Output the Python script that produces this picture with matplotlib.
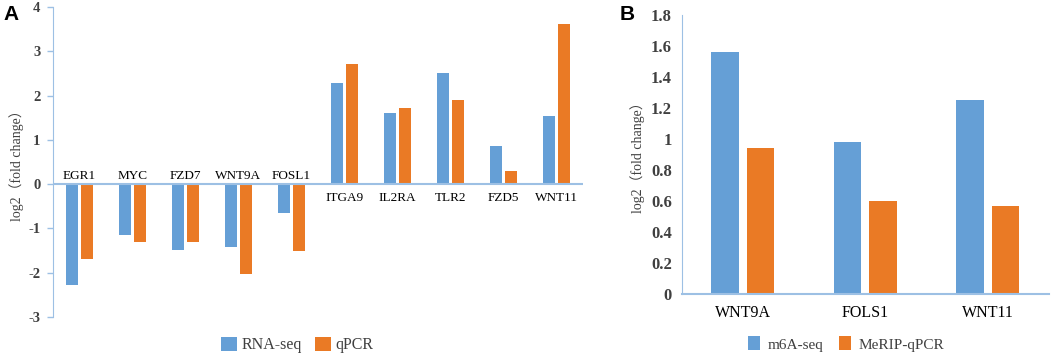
import numpy as np
import matplotlib
matplotlib.use("Agg")
import matplotlib.pyplot as plt

# panel A data
genes_a = ["EGR1", "MYC", "FZD7", "WNT9A", "FOSL1", "ITGA9", "IL2RA", "TLR2", "FZD5", "WNT11"]
rnaseq = [-2.27, -1.14, -1.48, -1.42, -0.66, 2.29, 1.61, 2.52, 0.87, 1.54]
qpcr = [-1.70, -1.31, -1.30, -2.02, -1.52, 2.71, 1.71, 1.90, 0.29, 3.62]
yticks_a = [-3, -2, -1, 0, 1, 2, 3, 4]

# panel B data
genes_b = ["WNT9A", "FOLS1", "WNT11"]
m6a = [1.563, 0.981, 1.252]
merip = [0.942, 0.602, 0.568]
yticks_b = [0, 0.2, 0.4, 0.6, 0.8, 1.0, 1.2, 1.4, 1.6, 1.8]
yticklab_b = ["0", "0.2", "0.4", "0.6", "0.8", "1", "1.2", "1.4", "1.6", "1.8"]

blue = "#659fd6"
orange = "#ea7a25"
axcol = "#9dc0e4"
serif = ["Liberation Serif", "Noto Sans CJK SC"]

fig = plt.figure(figsize=(10.52, 3.57), dpi=100)
axA = fig.add_axes([0.0504, 0.1120, 0.5038, 0.8684])
axB = fig.add_axes([0.6479, 0.1765, 0.3491, 0.7815])

w = 0.225
off = 0.145

# ---- A ----
x = np.arange(len(genes_a))
axA.bar(x - off, rnaseq, w, color=blue, label="RNA-seq")
axA.bar(x + off, qpcr, w, color=orange, label="qPCR")
axA.set_xlim(-0.5, len(genes_a) - 0.5)
axA.set_ylim(-3, 4)
axA.set_yticks(yticks_a)
axA.set_yticklabels([str(t) for t in yticks_a], family=serif, fontsize=10.5,
                    fontweight="bold", color="#404040")
axA.tick_params(axis="y", length=4, color=axcol, width=1, pad=5)
axA.set_xticks([])
axA.axhline(0, color=axcol, lw=1.5)
for s in ["top", "right", "bottom"]:
    axA.spines[s].set_visible(False)
axA.spines["left"].set_color(axcol)
for i, g in enumerate(genes_a):
    if rnaseq[i] < 0:
        axA.text(i, 0.04, g, ha="center", va="bottom", family=serif, fontsize=9.5)
    else:
        axA.text(i, -0.17, g, ha="center", va="top", family=serif, fontsize=9.5)
axA.set_ylabel("log2（fold change）", family=serif, fontsize=10, color="#404040", labelpad=3)

# ---- B ----
xb = np.arange(len(genes_b))
axB.bar(xb - off, m6a, w, color=blue, label="m6A-seq")
axB.bar(xb + off, merip, w, color=orange, label="MeRIP-qPCR")
axB.set_xlim(-0.5, len(genes_b) - 0.5)
axB.set_ylim(0, 1.8)
axB.set_yticks(yticks_b)
axB.set_yticklabels(yticklab_b, family=serif, fontsize=12, fontweight="bold", color="#404040")
axB.tick_params(axis="y", length=0, pad=7)
axB.set_xticks(xb)
axB.set_xticklabels(genes_b, family=serif, fontsize=11.5)
axB.tick_params(axis="x", length=0, pad=8)
for s in ["top", "right"]:
    axB.spines[s].set_visible(False)
axB.spines["left"].set_color(axcol)
axB.spines["bottom"].set_color(axcol)
axB.spines["bottom"].set_linewidth(1.5)
axB.set_ylabel("log2（fold change）", family=serif, fontsize=10, color="#404040", labelpad=4)

# legends
fig.legend(*axA.get_legend_handles_labels(), loc="center", bbox_to_anchor=(297 / 1052, 1 - 345 / 357),
           ncol=2, frameon=False, handlelength=1.0, handleheight=1.0, handletextpad=0.3,
           columnspacing=0.8, prop={"family": serif, "size": 11.5}, labelcolor="#404040")
fig.legend(*axB.get_legend_handles_labels(), loc="center", bbox_to_anchor=(846 / 1052, 1 - 344 / 357),
           ncol=2, frameon=False, handlelength=0.8, handleheight=1.0, handletextpad=0.5,
           columnspacing=1.0, prop={"family": serif, "size": 11}, labelcolor="#404040")

fig.text(0.003, 0.985, "A", fontsize=15, fontweight="bold", family="Liberation Sans", va="top")
fig.text(0.589, 0.985, "B", fontsize=15, fontweight="bold", family="Liberation Sans", va="top")

fig.savefig("out.png", dpi=100)
